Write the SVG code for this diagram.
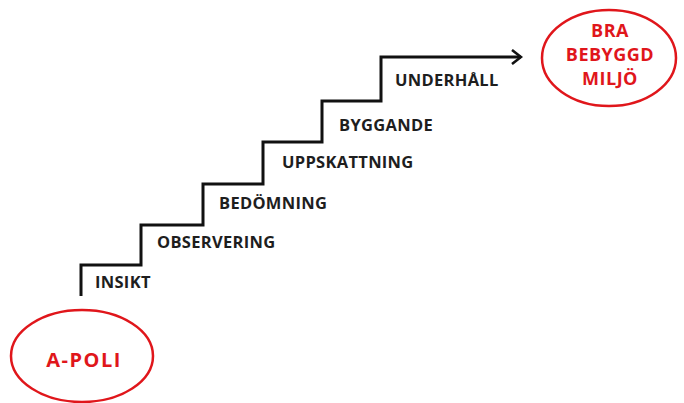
<svg xmlns="http://www.w3.org/2000/svg" width="684" height="403" viewBox="0 0 684 403">
<style>
.step{font-family:"Open Sans","Noto Sans",sans-serif;font-weight:bold;font-size:16.5px;letter-spacing:0.3px;fill:#1e1e1e}
.red{font-family:"Open Sans","Noto Sans",sans-serif;font-weight:bold;fill:#e0161b;text-anchor:middle}
.ell{fill:none;stroke:#e0161b;stroke-width:2.5}
</style>
<defs>
<marker id="arr" viewBox="0 0 12 16" refX="10" refY="8" markerWidth="12" markerHeight="16" markerUnits="userSpaceOnUse" orient="auto">
<path d="M1,1 L10,8 L1,15" fill="none" stroke="#111" stroke-width="2.6"/>
</marker>
</defs>
<g id="connectors">
<path d="M81,296 V265 H141 V225 H203 V184 H263 V142 H322 V101 H381 V57 H521" fill="none" stroke="#111" stroke-width="3" marker-end="url(#arr)"/>
</g>
<g id="insikt"><text class="step" x="95" y="288">INSIKT</text></g>
<g id="observering"><text class="step" x="157" y="248">OBSERVERING</text></g>
<g id="bedomning"><text class="step" x="219" y="209">BEDÖMNING</text></g>
<g id="uppskattning"><text class="step" x="282" y="168">UPPSKATTNING</text></g>
<g id="byggande"><text class="step" x="339" y="131">BYGGANDE</text></g>
<g id="underhall"><text class="step" x="395" y="86">UNDERHÅLL</text></g>
<g id="apoli">
<ellipse class="ell" cx="82" cy="356" rx="71" ry="46"/>
<text class="red" x="84" y="367" font-size="20" letter-spacing="1.5">A-POLI</text>
</g>
<g id="bra">
<ellipse class="ell" cx="609" cy="58" rx="67" ry="48"/>
<text class="red" x="610" y="37" font-size="18" letter-spacing="0.5">BRA</text>
<text class="red" x="610" y="61" font-size="18" letter-spacing="0.5">BEBYGGD</text>
<text class="red" x="610" y="85" font-size="18" letter-spacing="0.5">MILJÖ</text>
</g>
</svg>
